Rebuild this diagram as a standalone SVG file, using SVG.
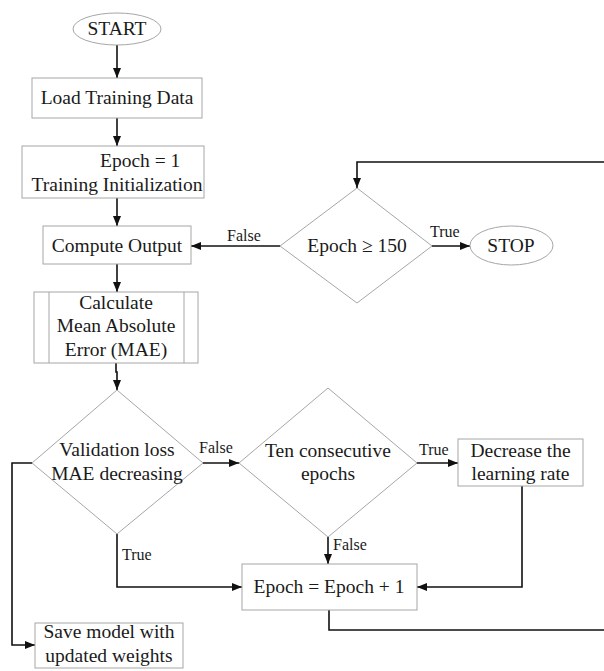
<svg xmlns="http://www.w3.org/2000/svg" width="604" height="671" viewBox="0 0 604 671">
<style>
  .shape { fill: #ffffff; stroke: #a6a6a6; stroke-width: 1; }
  .t { font-family: "Liberation Serif", "Times New Roman", serif; font-size: 19.5px; fill: #1a1a1a; text-anchor: middle; }
  .lbl { font-family: "Liberation Serif", "Times New Roman", serif; font-size: 16px; fill: #1a1a1a; }
  .conn { fill: none; stroke: #111111; stroke-width: 1.6; }
</style>
<defs>
  <marker id="arr" viewBox="0 0 10 8" markerWidth="10" markerHeight="8" refX="10" refY="4" orient="auto" markerUnits="userSpaceOnUse">
    <path d="M0,0 L10,4 L0,8 z" fill="#111111"/>
  </marker>
</defs>
<rect width="604" height="671" fill="#ffffff"/>

<g id="connectors">
  <path class="conn" d="M117,45 L117,78" marker-end="url(#arr)"/>
  <path class="conn" d="M117,118 L117,146" marker-end="url(#arr)"/>
  <path class="conn" d="M117,198 L117,226" marker-end="url(#arr)"/>
  <path class="conn" d="M117,264 L117,292" marker-end="url(#arr)"/>
  <path class="conn" d="M116,363 L116,372 L117,372 L117,390" marker-end="url(#arr)"/>
  <path class="conn" d="M604,162 L357,162 L357,188" marker-end="url(#arr)"/>
  <path class="conn" d="M280,246 L191,246" marker-end="url(#arr)"/>
  <path class="conn" d="M432,246 L470,246" marker-end="url(#arr)"/>
  <path class="conn" d="M203,463 L239,463" marker-end="url(#arr)"/>
  <path class="conn" d="M417,463 L458,463" marker-end="url(#arr)"/>
  <path class="conn" d="M328,537 L328,564" marker-end="url(#arr)"/>
  <path class="conn" d="M117,534 L117,587 L242,587" marker-end="url(#arr)"/>
  <path class="conn" d="M522,486 L522,587 L417,587" marker-end="url(#arr)"/>
  <path class="conn" d="M329,610 L329,630 L604,630"/>
  <path class="conn" d="M32,463 L12,463 L12,645 L35,645" marker-end="url(#arr)"/>
  <text class="lbl" x="227" y="241">False</text>
  <text class="lbl" x="430" y="237">True</text>
  <text class="lbl" x="199" y="453">False</text>
  <text class="lbl" x="419" y="455">True</text>
  <text class="lbl" x="333" y="550">False</text>
  <text class="lbl" x="122" y="560">True</text>
</g>

<g id="start">
  <ellipse class="shape" cx="117" cy="29" rx="44" ry="16"/>
  <text class="t" x="117" y="35">START</text>
</g>

<g id="load">
  <rect class="shape" x="32" y="78" width="170" height="40"/>
  <text class="t" x="117" y="104">Load Training Data</text>
</g>

<g id="init">
  <rect class="shape" x="22" y="146" width="182" height="52"/>
  <text class="t" x="100" y="167" style="text-anchor:start">Epoch = 1</text>
  <text class="t" x="117" y="191">Training Initialization</text>
</g>

<g id="compute">
  <rect class="shape" x="43" y="226" width="148" height="38"/>
  <text class="t" x="117" y="252">Compute Output</text>
</g>

<g id="mae">
  <rect class="shape" x="34" y="292" width="164" height="71"/>
  <line class="shape" x1="49" y1="292" x2="49" y2="363"/>
  <line class="shape" x1="184" y1="292" x2="184" y2="363"/>
  <text class="t" x="116" y="309">Calculate</text>
  <text class="t" x="116" y="332">Mean Absolute</text>
  <text class="t" x="116" y="356">Error (MAE)</text>
</g>

<g id="check150">
  <polygon class="shape" points="357,188 432,246 357,303 280,246"/>
  <text class="t" x="357" y="252">Epoch ≥ 150</text>
</g>

<g id="stop">
  <ellipse class="shape" cx="511.5" cy="245.5" rx="41.5" ry="19.5"/>
  <text class="t" x="511" y="252">STOP</text>
</g>

<g id="validation">
  <polygon class="shape" points="117,390 203,463 117,534 32,463"/>
  <text class="t" x="117" y="456">Validation loss</text>
  <text class="t" x="117" y="480">MAE decreasing</text>
</g>

<g id="tenEpochs">
  <polygon class="shape" points="328,388 417,463 328,537 239,463"/>
  <text class="t" x="328" y="457">Ten consecutive</text>
  <text class="t" x="328" y="480">epochs</text>
</g>

<g id="decrease">
  <rect class="shape" x="458" y="439" width="125" height="47"/>
  <text class="t" x="520.5" y="457">Decrease the</text>
  <text class="t" x="520.5" y="480">learning rate</text>
</g>

<g id="increment">
  <rect class="shape" x="242" y="564" width="175" height="46"/>
  <text class="t" x="329" y="593">Epoch = Epoch + 1</text>
</g>

<g id="save">
  <rect class="shape" x="35" y="623" width="148" height="45"/>
  <text class="t" x="109" y="638">Save model with</text>
  <text class="t" x="109" y="662">updated weights</text>
</g>
</svg>
